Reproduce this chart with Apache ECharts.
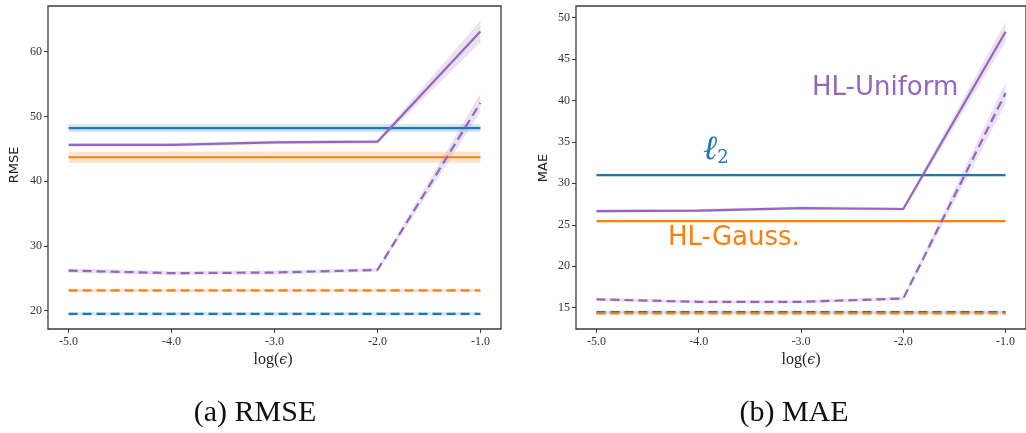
<!DOCTYPE html>
<html>
<head>
<meta charset="utf-8">
<script src="https://cdn.jsdelivr.net/npm/echarts@6/dist/echarts.min.js"></script>
<style>html,body{margin:0;padding:0;background:#fff}#c{width:1026px;height:433px}</style>
</head>
<body>
<div id="c"></div>
<script>
// ---- data ----
const logEps = [-5, -4, -3, -2, -1];
const xTicks = [-5, -4, -3, -2, -1];
const rmseTicks = [20, 30, 40, 50, 60];
const maeTicks = [15, 20, 25, 30, 35, 40, 45, 50];

// RMSE panel (mean, band half-width)
const rmseL2Solid = [48.2, 48.2, 48.2, 48.2, 48.2];
const rmseL2SolidBand = [0.6, 0.6, 0.6, 0.6, 0.6];
const rmseGaussSolid = [43.7, 43.7, 43.7, 43.7, 43.7];
const rmseGaussSolidBand = [0.9, 0.9, 0.9, 0.9, 0.9];
const rmseUnifSolid = [45.6, 45.6, 46.0, 46.1, 63.1];
const rmseUnifSolidBand = [0.3, 0.3, 0.3, 0.3, 1.7];
const rmseL2Dash = [19.5, 19.5, 19.5, 19.5, 19.5];
const rmseL2DashBand = [0.25, 0.25, 0.25, 0.25, 0.25];
const rmseGaussDash = [23.15, 23.15, 23.15, 23.15, 23.15];
const rmseGaussDashBand = [0.25, 0.25, 0.25, 0.25, 0.25];
const rmseUnifDash = [26.2, 25.8, 25.9, 26.3, 52.1];
const rmseUnifDashBand = [0.35, 0.3, 0.3, 0.3, 1.4];

// MAE panel
const maeL2Solid = [31.0, 31.0, 31.0, 31.0, 31.0];
const maeL2SolidBand = [0.15, 0.15, 0.15, 0.15, 0.15];
const maeGaussSolid = [25.45, 25.45, 25.45, 25.45, 25.45];
const maeGaussSolidBand = [0.15, 0.15, 0.15, 0.15, 0.15];
const maeUnifSolid = [26.65, 26.7, 27.0, 26.9, 48.3];
const maeUnifSolidBand = [0.2, 0.2, 0.2, 0.2, 1.2];
const maeL2Dash = [14.45, 14.45, 14.45, 14.45, 14.45];
const maeL2DashBand = [0.2, 0.2, 0.2, 0.2, 0.2];
const maeGaussDash = [14.3, 14.3, 14.3, 14.3, 14.3];
const maeGaussDashBand = [0.1, 0.1, 0.1, 0.1, 0.1];
const maeUnifDash = [16.0, 15.7, 15.7, 16.1, 40.9];
const maeUnifDashBand = [0.2, 0.2, 0.2, 0.2, 1.3];

// ---- styling ----
const BLUE = '#1f77b4', ORANGE = '#ff7f0e', PURPLE = '#9467bd';
const DASH = [9, 5];
const SPINE = '#3a3a3a';
const tickFont = { fontFamily: 'Liberation Serif', fontSize: 12, color: '#333' };

function band(gi, xs, mean, hw, color) {
  return {
    type: 'custom', xAxisIndex: gi, yAxisIndex: gi, silent: true, z: 1,
    data: [[xs[0], mean[0]]],
    renderItem: function (params, api) {
      const pts = [];
      for (let i = 0; i < xs.length; i++) pts.push(api.coord([xs[i], mean[i] + hw[i]]));
      for (let i = xs.length - 1; i >= 0; i--) pts.push(api.coord([xs[i], mean[i] - hw[i]]));
      return { type: 'polygon', shape: { points: pts }, style: { fill: color, opacity: 0.2 } };
    }
  };
}
function line(gi, xs, ys, color, dashed, z) {
  return {
    type: 'line', xAxisIndex: gi, yAxisIndex: gi, silent: true, z: z,
    data: xs.map((x, i) => [x, ys[i]]),
    symbol: 'none',
    lineStyle: { color: color, width: 2.2, type: dashed ? DASH : 'solid', cap: 'butt' }
  };
}
function xAxis(gi) {
  return {
    type: 'value', gridIndex: gi, min: -5.2, max: -0.8,
    splitLine: { show: false },
    axisLine: { show: false },
    axisTick: { show: true, length: 4, lineStyle: { color: SPINE }, customValues: xTicks },
    axisLabel: Object.assign({ margin: 7, customValues: xTicks, formatter: v => v.toFixed(1) }, tickFont),
    name: '', 
  };
}
function yAxis(gi, min, max, ticks) {
  return {
    type: 'value', gridIndex: gi, min: min, max: max,
    splitLine: { show: false },
    axisLine: { show: false },
    axisTick: { show: true, length: 4, lineStyle: { color: SPINE }, customValues: ticks },
    axisLabel: Object.assign({ margin: 6, customValues: ticks, formatter: v => String(v) }, tickFont)
  };
}

const series = [
  // RMSE
  band(0, logEps, rmseL2Solid, rmseL2SolidBand, BLUE),
  band(0, logEps, rmseGaussSolid, rmseGaussSolidBand, ORANGE),
  band(0, logEps, rmseUnifSolid, rmseUnifSolidBand, PURPLE),
  band(0, logEps, rmseL2Dash, rmseL2DashBand, BLUE),
  band(0, logEps, rmseGaussDash, rmseGaussDashBand, ORANGE),
  band(0, logEps, rmseUnifDash, rmseUnifDashBand, PURPLE),
  line(0, logEps, rmseL2Solid, BLUE, false, 2),
  line(0, logEps, rmseGaussSolid, ORANGE, false, 3),
  line(0, logEps, rmseUnifSolid, PURPLE, false, 4),
  line(0, logEps, rmseL2Dash, BLUE, true, 5),
  line(0, logEps, rmseGaussDash, ORANGE, true, 6),
  line(0, logEps, rmseUnifDash, PURPLE, true, 7),
  // MAE
  band(1, logEps, maeL2Solid, maeL2SolidBand, BLUE),
  band(1, logEps, maeGaussSolid, maeGaussSolidBand, ORANGE),
  band(1, logEps, maeUnifSolid, maeUnifSolidBand, PURPLE),
  band(1, logEps, maeL2Dash, maeL2DashBand, BLUE),
  band(1, logEps, maeGaussDash, maeGaussDashBand, ORANGE),
  band(1, logEps, maeUnifDash, maeUnifDashBand, PURPLE),
  line(1, logEps, maeL2Solid, BLUE, false, 2),
  line(1, logEps, maeGaussSolid, ORANGE, false, 3),
  line(1, logEps, maeUnifSolid, PURPLE, false, 4),
  line(1, logEps, maeL2Dash, BLUE, true, 5),
  line(1, logEps, maeGaussDash, ORANGE, true, 6),
  line(1, logEps, maeUnifDash, PURPLE, true, 7)
];

const chart = echarts.init(document.getElementById('c'), null, { renderer: 'canvas' });
chart.setOption({
  animation: false,
  backgroundColor: '#fff',
  grid: [
    { left: 48, top: 6, width: 453, height: 323, show: true, borderColor: SPINE, borderWidth: 1.3, backgroundColor: 'transparent' },
    { left: 576, top: 6, width: 452, height: 323, show: true, borderColor: SPINE, borderWidth: 1.3, backgroundColor: 'transparent' }
  ],
  xAxis: [xAxis(0), xAxis(1)],
  yAxis: [yAxis(0, 17.18, 67.05, rmseTicks), yAxis(1, 12.42, 51.4, maeTicks)],
  series: series,
  graphic: [
    { type: 'text', left: 8, top: 148, rotation: Math.PI / 2, style: { text: 'RMSE', font: '13px "DejaVu Sans"', fill: '#222', align: 'center', verticalAlign: 'middle' }, x: 15, y: 165, left: null, top: null },
    { type: 'text', x: 544, y: 168, rotation: Math.PI / 2, style: { text: 'MAE', font: '13px "DejaVu Sans"', fill: '#222', align: 'center', verticalAlign: 'middle' } },
    { type: 'text', x: 273, y: 360, style: { text: 'log({e|ϵ})', rich: { e: { fontFamily: 'DejaVu Serif', fontStyle: 'italic', fontSize: 14, fill: '#222' } }, font: '16px "Liberation Serif"', fill: '#222', align: 'center', verticalAlign: 'middle' } },
    { type: 'text', x: 801, y: 360, style: { text: 'log({e|ϵ})', rich: { e: { fontFamily: 'DejaVu Serif', fontStyle: 'italic', fontSize: 14, fill: '#222' } }, font: '16px "Liberation Serif"', fill: '#222', align: 'center', verticalAlign: 'middle' } },
    { type: 'text', x: 255, y: 413, style: { text: '(a) RMSE', font: '30px "Liberation Serif"', fill: '#111', align: 'center', verticalAlign: 'middle' } },
    { type: 'text', x: 794, y: 413, style: { text: '(b) MAE', font: '30px "Liberation Serif"', fill: '#111', align: 'center', verticalAlign: 'middle' } },
    { type: 'text', x: 812, y: 88, style: { text: 'HL-Uniform', font: '26px "DejaVu Sans"', fill: PURPLE, align: 'left', verticalAlign: 'middle' } },
    { type: 'text', x: 668, y: 238, style: { text: 'HL-Gauss.', font: '26px "DejaVu Sans"', fill: ORANGE, align: 'left', verticalAlign: 'middle' } },
    { type: 'text', x: 703, y: 150, style: { text: '{l|ℓ}{s|2}', rich: { l: { fontFamily: 'DejaVu Serif', fontStyle: 'italic', fontSize: 34, fill: BLUE, verticalAlign: 'bottom' }, s: { fontFamily: 'DejaVu Serif', fontSize: 18, fill: BLUE, padding: [0, 0, 0, 0], verticalAlign: 'bottom' } }, align: 'left', verticalAlign: 'middle' } }
  ]
});
</script>
</body>
</html>
